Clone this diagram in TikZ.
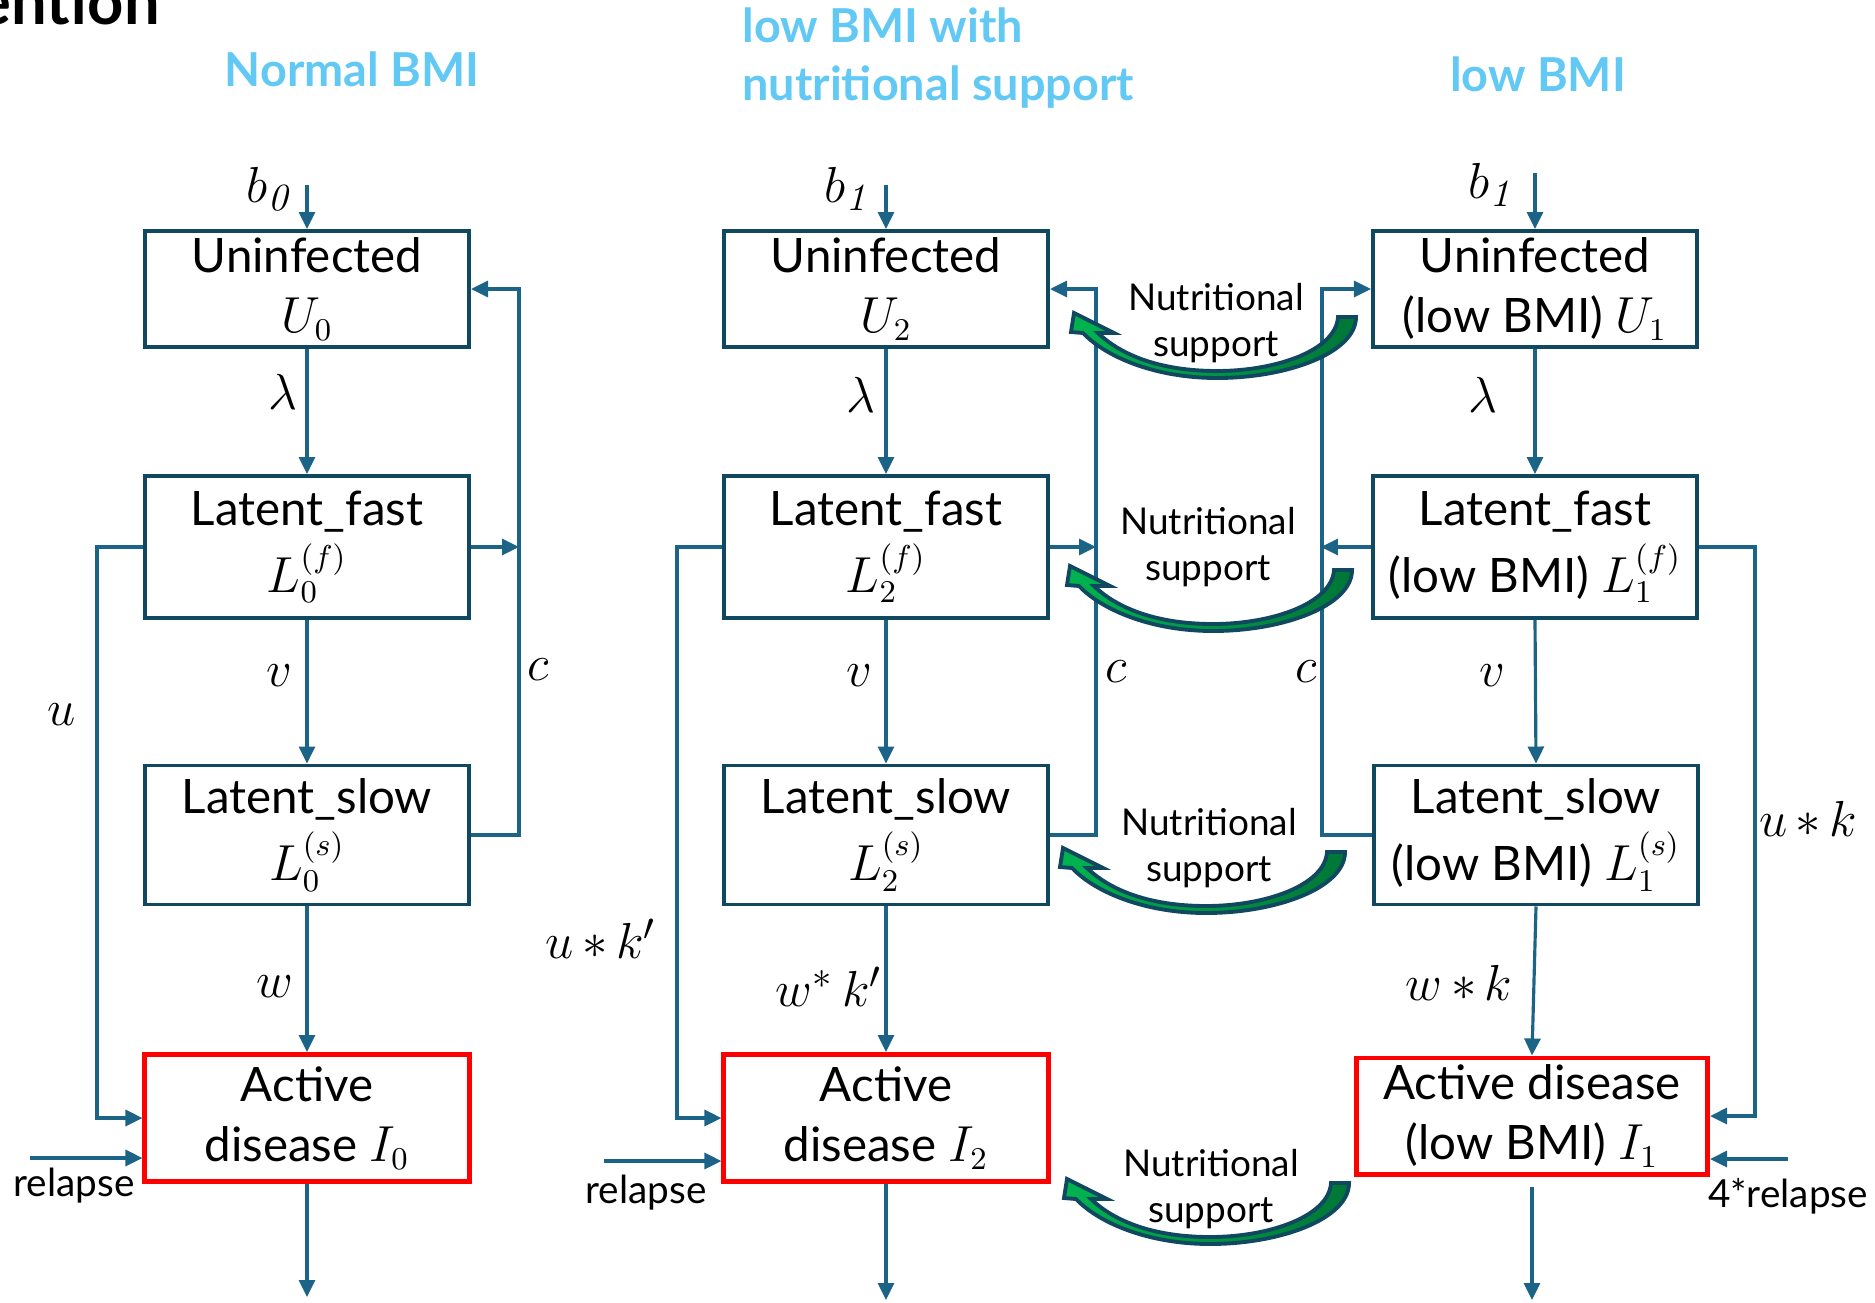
\documentclass[tikz,border=0pt]{standalone}
\usepackage{amsmath}
\usepackage{amssymb}
\usepackage[no-math]{fontspec}
\setmainfont{Lato}
\usetikzlibrary{arrows.meta}

\definecolor{boxcol}{RGB}{16,72,96}
\definecolor{linecol}{RGB}{27,100,135}
\definecolor{titlecol}{RGB}{98,200,244}
\definecolor{greenA}{RGB}{0,180,80}
\definecolor{greenB}{RGB}{0,118,55}

% curved green arrow, placed by the lowest point of its outer edge
\newcommand{\nutarrow}[1]{%
  \begin{scope}[shift={#1}]
    \path[draw=boxcol, line width=1.1pt, left color=greenA, right color=greenB]
      (139,-61) .. controls (139,-25) and (70,0) .. (0,0)
      .. controls (-60,0) and (-110,-20) .. (-134,-45)
      -- (-146,-46) -- (-143,-65) -- (-103,-45) -- (-119,-45)
      .. controls (-95,-22) and (-55,-7) .. (0,-7)
      .. controls (60,-7) and (119,-28) .. (121,-61) -- cycle;
  \end{scope}}

\begin{document}
\begin{tikzpicture}[x=0.01cm, y=-0.01cm,
    comp/.style={draw=boxcol, line width=1.1pt, minimum width=3.24cm, inner sep=1pt, align=center,
      font=\fontsize{13.5}{17}\selectfont, execute at begin node={\rule{0pt}{14.5pt}}},
    active/.style={comp, draw=red, line width=1.4pt},
    flow/.style={draw=linecol, line width=0.9pt, -{Triangle[length=1.7mm,width=1.6mm]}},
    rate/.style={font=\fontsize{15.5}{19}\selectfont},
    lbl/.style={font=\fontsize{11}{13}\selectfont},
    heading/.style={text=titlecol, font=\fontsize{13.3}{16.5}\selectfont\bfseries, align=left},
    nut/.style={font=\fontsize{10.5}{13}\selectfont, align=center}]

    \useasboundingbox (0,0) rectangle (1875,1302);

    \node[anchor=base east, font=\fontsize{18}{21}\selectfont\bfseries] (hdr) at (172,24) {ention};

    \node[heading] (t0) at (352,69) {Normal BMI};
    \node[heading, anchor=west] (t2) at (730,58) {low BMI with\\nutritional support};
    \node[heading] (t1) at (1538,74) {low BMI};

    % normal BMI
    \node[comp, minimum height=1.16cm] (U0) at (307,289) {Uninfected\\$U_0$};
    \node[comp, minimum height=1.42cm] (Lf0) at (307,547) {Latent\_fast\\[2pt]$L_0^{(f)}$};
    \node[comp, minimum height=1.39cm] (Ls0) at (307,835) {Latent\_slow\\[2pt]$L_0^{(s)}$};
    \node[active, minimum height=1.27cm] (I0) at (307,1118) {Active\\disease $I_0$};

    % low BMI with nutritional support
    \node[comp, minimum height=1.16cm] (U2) at (886,289) {Uninfected\\$U_2$};
    \node[comp, minimum height=1.42cm] (Lf2) at (886,547) {Latent\_fast\\[2pt]$L_2^{(f)}$};
    \node[comp, minimum height=1.39cm] (Ls2) at (886,835) {Latent\_slow\\[2pt]$L_2^{(s)}$};
    \node[active, minimum height=1.27cm] (I2) at (886,1118) {Active\\disease $I_2$};

    % low BMI
    \node[comp, minimum height=1.16cm] (U1) at (1535,289) {Uninfected\\(low BMI) $U_1$};
    \node[comp, minimum height=1.42cm] (Lf1) at (1535,547) {Latent\_fast\\[2pt](low BMI) $L_1^{(f)}$};
    \node[comp, minimum height=1.39cm] (Ls1) at (1536,835) {Latent\_slow\\[2pt](low BMI) $L_1^{(s)}$};
    \node[active, minimum height=1.16cm, minimum width=3.51cm] (I1) at (1532,1116) {Active disease\\(low BMI) $I_1$};

    \coordinate (in0) at (307,185);
    \coordinate (in2) at (886,185);
    \coordinate (in1) at (1535,173);
    \coordinate (out0) at (307,1297);
    \coordinate (out2) at (886,1300);
    \coordinate (out1) at (1532,1300);
    \coordinate (rel0) at (30,1158);
    \coordinate (rel2) at (604,1161);
    \coordinate (rel1) at (1788,1159);

    \draw[flow] (in0) -- (U0.north);
    \draw[flow] (U0.south) -- (Lf0.north);
    \draw[flow] (Lf0.south) -- (Ls0.north);
    \draw[flow] (Ls0.south) -- (I0.north);
    \draw[flow] (I0.south) -- (out0);
    \draw[flow] (Lf0.west) -- ++(-46,0) |- (I0.west);
    \draw[flow] (Ls0.east) -- ++(48,0) |- (U0.east);
    \draw[flow] (Lf0.east) -- ++(48,0);
    \draw[flow] (rel0) -- (rel0 -| I0.west);

    \draw[flow] (in2) -- (U2.north);
    \draw[flow] (U2.south) -- (Lf2.north);
    \draw[flow] (Lf2.south) -- (Ls2.north);
    \draw[flow] (Ls2.south) -- (I2.north);
    \draw[flow] (I2.south) -- (out2);
    \draw[flow] (Lf2.west) -- ++(-45,0) |- (I2.west);
    \draw[flow] (Ls2.east) -- ++(46,0) |- (U2.east);
    \draw[flow] (Lf2.east) -- ++(46,0);
    \draw[flow] (rel2) -- (rel2 -| I2.west);

    \draw[flow] (in1) -- (U1.north);
    \draw[flow] (U1.south) -- (Lf1.north);
    \draw[flow] (Lf1.south) -- (Ls1.north);
    \draw[flow] (Ls1.south) -- (I1.north);
    \draw[flow, shorten <=1mm] (I1.south) -- (out1);
    \draw[flow] (Lf1.east) -- ++(56,0) |- (I1.east);
    \draw[flow] (Ls1.west) -- ++(-50,0) |- (U1.west);
    \draw[flow] (Lf1.west) -- ++(-50,0);
    \draw[flow] (rel1) -- (rel1 -| I1.east);

    % rates
    \node[rate, anchor=east] (b0) at (307,189) {$b_{\mathit{0}}$};
    \node[rate] (lam0) at (283,392) {$\lambda$};
    \node[rate] (v0) at (279,676) {$v$};
    \node[rate] (w0) at (275,987) {$w$};
    \node[rate] (u0) at (62,715) {$u$};
    \node[rate] (c0) at (538,670) {$c$};
    \node[lbl] (r0) at (74,1186) {relapse};

    \node[rate, anchor=east] (b2) at (885,189) {$b_{\mathit{1}}$};
    \node[rate] (lam2) at (861,395) {$\lambda$};
    \node[rate] (v2) at (859,676) {$v$};
    \node[rate] (w2) at (829,987) {$w^{*}\,k'$};
    \node[rate] (u2) at (601,939) {$u\mskip3mu{\ast}\mskip3mu k'$};
    \node[rate] (c2) at (1116,672) {$c$};
    \node[lbl] (r2) at (646,1193) {relapse};

    \node[rate, anchor=east] (b1) at (1529,185) {$b_{\mathit{1}}$};
    \node[rate] (lam1) at (1483,395) {$\lambda$};
    \node[rate] (v1) at (1492,676) {$v$};
    \node[rate] (w1) at (1459,983) {$w\mskip3mu{\ast}\mskip3mu k$};
    \node[rate] (u1) at (1808,819) {$u\mskip3mu{\ast}\mskip3mu k$};
    \node[rate] (c1) at (1306,672) {$c$};
    \node[lbl] (r1) at (1788,1196) {4*relapse};

    % nutritional support
    \nutarrow{(1217,378)}
    \nutarrow{(1213,631)}
    \nutarrow{(1206,913)}
    \nutarrow{(1210,1244)}
    \node[nut] (ns1) at (1216,323) {Nutritional\\support};
    \node[nut] (ns2) at (1208,547) {Nutritional\\support};
    \node[nut] (ns3) at (1209,848) {Nutritional\\support};
    \node[nut] (ns4) at (1211,1189) {Nutritional\\support};
\end{tikzpicture}
\end{document}
